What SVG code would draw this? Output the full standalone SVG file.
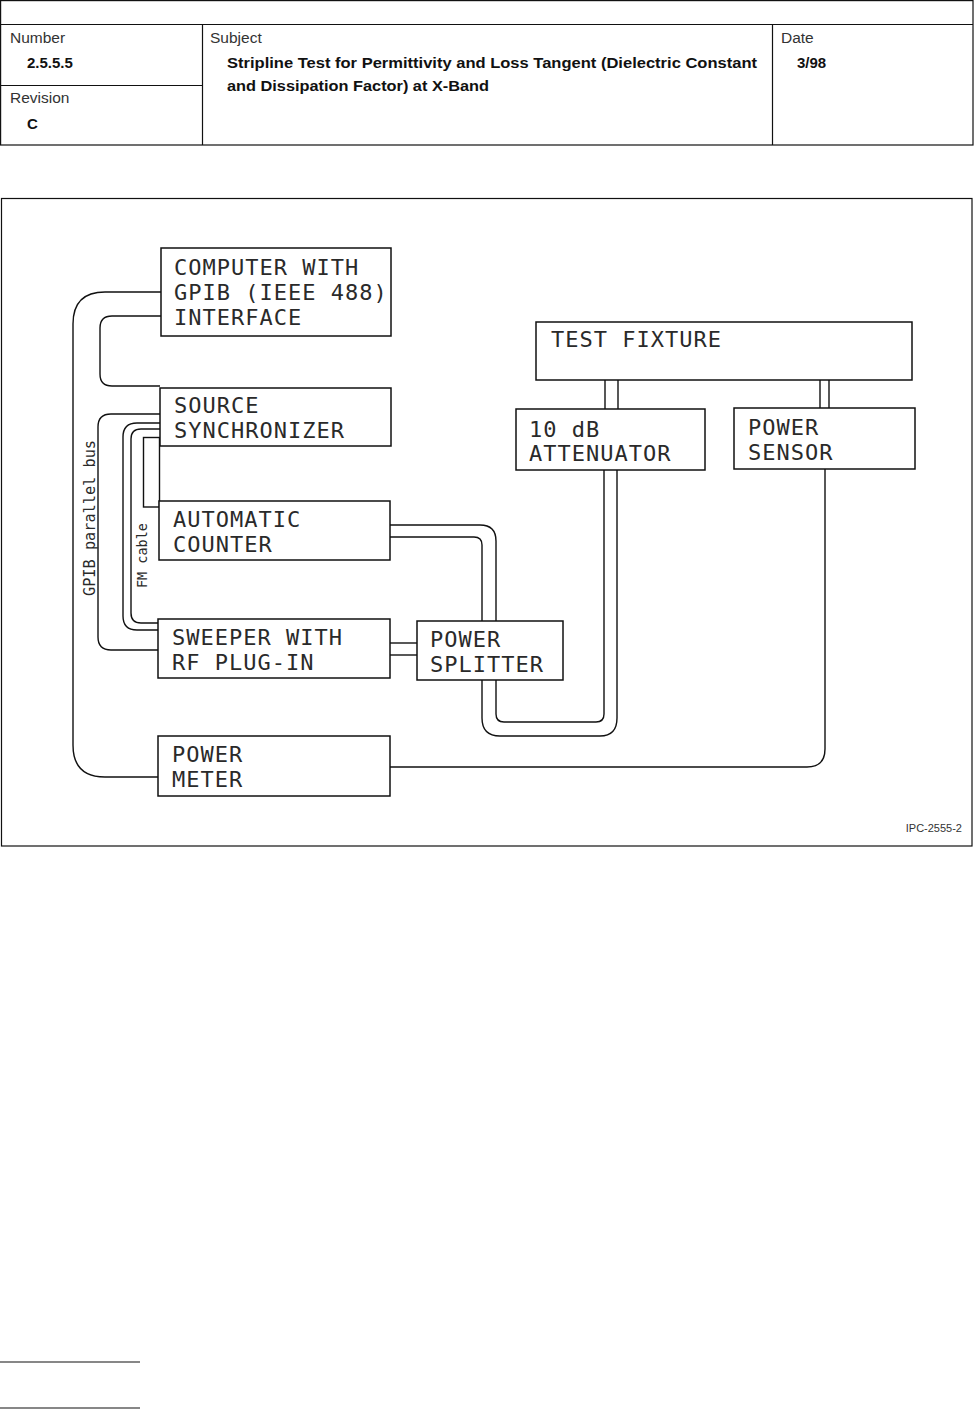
<svg xmlns="http://www.w3.org/2000/svg" width="974" height="1409" viewBox="0 0 974 1409">
<style>
.hl{fill:none;stroke:#111;stroke-width:1.2}
.hlab{font-family:"Liberation Sans",Arial,sans-serif;font-size:15.5px;fill:#333;font-weight:300}
.hb{font-family:"Liberation Sans",Arial,sans-serif;font-size:15px;font-weight:bold;fill:#111}
.box{fill:#fff;stroke:#111;stroke-width:1.5}
.bt{font-family:"DejaVu Sans Mono","Liberation Mono",monospace;font-size:22px;letter-spacing:1px;fill:#2a2a2a}
.cn{fill:none;stroke:#111;stroke-width:1.4}
.lab{font-family:"DejaVu Sans Mono","Liberation Mono",monospace;fill:#2a2a2a}
</style>
<rect width="974" height="1409" fill="#fff"/>
<g id="header">
<rect class="hl" x="0.6" y="0.6" width="972.4" height="144.4"/>
<line class="hl" x1="0" y1="24.5" x2="973" y2="24.5"/>
<line class="hl" x1="202.5" y1="24.5" x2="202.5" y2="145"/>
<line class="hl" x1="772.5" y1="24.5" x2="772.5" y2="145"/>
<line class="hl" x1="0" y1="85.5" x2="202.5" y2="85.5"/>
<text class="hlab" x="10" y="43">Number</text>
<text class="hb" x="27" y="68">2.5.5.5</text>
<text class="hlab" x="10" y="103">Revision</text>
<text class="hb" x="27" y="129">C</text>
<text class="hlab" x="210" y="43">Subject</text>
<text class="hb" x="227" y="68" textLength="530" lengthAdjust="spacingAndGlyphs">Stripline Test for Permittivity and Loss Tangent (Dielectric Constant</text>
<text class="hb" x="227" y="91" textLength="262" lengthAdjust="spacingAndGlyphs">and Dissipation Factor) at X-Band</text>
<text class="hlab" x="781" y="43">Date</text>
<text class="hb" x="797" y="68">3/98</text>
</g>
<rect class="hl" x="1.5" y="198.5" width="970.5" height="647.5"/>
<g id="connectors">
<path class="cn" d="M161,316 H112 Q100,316 100,328 V374 Q100,386 112,386 H160"/>
<path class="cn" d="M161,292 H105 Q73,292 73,324 V745 Q73,777 105,777 H158"/>
<path class="cn" d="M160,414 H111 Q98,414 98,427 V637 Q98,650 111,650 H158"/>
<path class="cn" d="M160,423 H137 Q123,423 123,437 V616 Q123,630 137,630 H158"/>
<path class="cn" d="M160,429 H141 Q131,429 131,439 V613 Q131,623 141,623 H158"/>
<rect class="cn" x="143.5" y="437.5" width="16" height="69.5"/>
<path class="cn" d="M390,525 H480 Q496,525 496,541 V621"/>
<path class="cn" d="M390,537 H474 Q482,537 482,545 V621"/>
<path class="cn" d="M482,680 V718 Q482,736 500,736 H600 Q617,736 617,718 V470"/>
<path class="cn" d="M496,680 V714 Q496,722 504,722 H596 Q604,722 604,714 V470"/>
<line class="cn" x1="605" y1="380" x2="605" y2="409"/>
<line class="cn" x1="618" y1="380" x2="618" y2="409"/>
<line class="cn" x1="820" y1="380" x2="820" y2="408"/>
<line class="cn" x1="829" y1="380" x2="829" y2="408"/>
<path class="cn" d="M825,469 V749 Q825,767 807,767 H390"/>
<line class="cn" x1="390" y1="643" x2="417" y2="643"/>
<line class="cn" x1="390" y1="655" x2="417" y2="655"/>
</g>
<g id="computer">
<rect class="box" x="161" y="248" width="230" height="88"/>
<text class="bt" x="174" y="275">COMPUTER WITH</text>
<text class="bt" x="174" y="300">GPIB (IEEE 488)</text>
<text class="bt" x="174" y="325">INTERFACE</text>
</g>
<g id="source-synchronizer">
<rect class="box" x="160" y="388" width="231" height="58"/>
<text class="bt" x="174" y="413">SOURCE</text>
<text class="bt" x="174" y="438">SYNCHRONIZER</text>
</g>
<g id="automatic-counter">
<rect class="box" x="159" y="501" width="231" height="59"/>
<text class="bt" x="173" y="527">AUTOMATIC</text>
<text class="bt" x="173" y="552">COUNTER</text>
</g>
<g id="sweeper">
<rect class="box" x="158" y="619" width="232" height="59"/>
<text class="bt" x="172" y="645">SWEEPER WITH</text>
<text class="bt" x="172" y="670">RF PLUG-IN</text>
</g>
<g id="power-meter">
<rect class="box" x="158" y="736" width="232" height="60"/>
<text class="bt" x="172" y="762">POWER</text>
<text class="bt" x="172" y="787">METER</text>
</g>
<g id="test-fixture">
<rect class="box" x="536" y="322" width="376" height="58"/>
<text class="bt" x="551" y="347">TEST FIXTURE</text>
</g>
<g id="attenuator">
<rect class="box" x="516" y="409" width="189" height="61"/>
<text class="bt" x="529" y="437">10 dB</text>
<text class="bt" x="529" y="461">ATTENUATOR</text>
</g>
<g id="power-sensor">
<rect class="box" x="734" y="408" width="181" height="61"/>
<text class="bt" x="748" y="435">POWER</text>
<text class="bt" x="748" y="460">SENSOR</text>
</g>
<g id="power-splitter">
<rect class="box" x="417" y="621" width="146" height="59"/>
<text class="bt" x="430" y="647">POWER</text>
<text class="bt" x="430" y="672">SPLITTER</text>
</g>
<text class="lab" font-size="15" transform="translate(95,596) rotate(-90)" textLength="156" lengthAdjust="spacingAndGlyphs">GPIB parallel bus</text>
<text class="lab" font-size="13.5" transform="translate(147,588) rotate(-90)" textLength="65" lengthAdjust="spacingAndGlyphs">FM cable</text>
<text x="962" y="832" text-anchor="end" style="font-family:'Liberation Sans',Arial,sans-serif;font-size:11px;fill:#333">IPC-2555-2</text>
<line class="hl" x1="0" y1="1362" x2="140" y2="1362"/>
<line class="hl" x1="0" y1="1408" x2="140" y2="1408"/>
</svg>
